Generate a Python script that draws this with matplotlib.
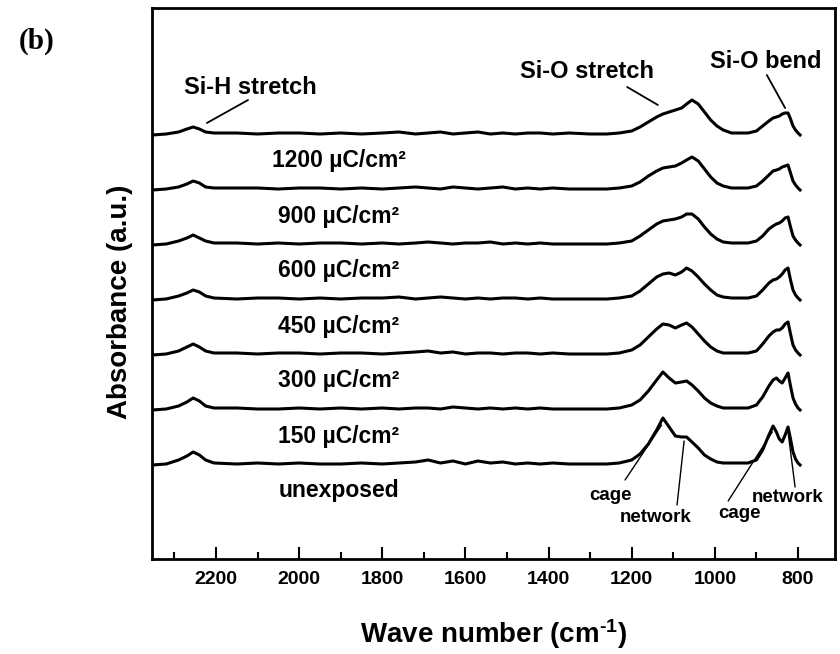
import matplotlib
matplotlib.use("Agg")
import matplotlib.pyplot as plt
from matplotlib.ticker import MultipleLocator

plt.rcParams['font.family'] = ['Liberation Sans', 'DejaVu Sans']
plt.rcParams['font.weight'] = 'bold'
plt.rcParams['mathtext.fontset'] = 'custom'
plt.rcParams['mathtext.rm'] = 'Liberation Sans:bold'
plt.rcParams['mathtext.default'] = 'rm'

# wave numbers (cm^-1) sampled along the spectra
wavenumber = [2354, 2320, 2290, 2270, 2255, 2240, 2225, 2205,
              2150, 2100, 2050, 2000, 1950, 1900, 1850, 1800,
              1760, 1720, 1690, 1660, 1630, 1600, 1570, 1540,
              1510, 1480, 1450, 1420, 1390, 1350, 1300, 1260,
              1230, 1200, 1180, 1160, 1140, 1125, 1110, 1095,
              1080, 1068, 1055, 1040, 1025, 1010, 995, 980,
              960, 940, 920, 900, 885, 870, 860, 852,
              845, 838, 831, 824, 818, 812, 806, 800, 795]

# absorbance (a.u.), top to bottom
abs_1200 = [0, 1, 3, 6, 8, 6, 3, 2, 2, 1, 2, 2, 1, 2, 1, 2,
            3, 1, 2, 3, 1, 2, 3, 1, 2, 1, 2, 2, 1, 2, 1, 1,
            2, 4, 8, 13, 18, 21, 23, 25, 27, 31, 35, 31, 23, 15, 9, 5,
            2, 2, 2, 4, 9, 14, 17, 18, 19, 21, 22, 22, 16, 9, 5, 2, 0]
abs_900 = [0, 1, 3, 6, 9, 7, 3, 2, 2, 2, 1, 2, 2, 1, 2, 1,
           2, 3, 2, 1, 3, 2, 1, 2, 3, 1, 2, 1, 2, 1, 1, 1,
           2, 4, 8, 14, 19, 22, 23, 24, 27, 30, 33, 29, 21, 13, 7, 4,
           2, 2, 2, 4, 9, 15, 19, 20, 21, 23, 24, 25, 17, 9, 5, 2, 0]
abs_600 = [0, 1, 4, 7, 10, 7, 4, 2, 2, 1, 2, 1, 2, 2, 1, 2,
           1, 2, 3, 2, 1, 2, 2, 3, 1, 2, 1, 2, 1, 1, 1, 1,
           2, 4, 9, 15, 21, 24, 25, 26, 28, 31, 31, 26, 18, 11, 6, 3,
           2, 2, 2, 4, 9, 16, 19, 21, 22, 24, 27, 28, 18, 9, 5, 2, 0]
abs_450 = [0, 1, 4, 7, 10, 8, 4, 2, 1, 2, 2, 1, 2, 1, 2, 2,
           3, 1, 2, 3, 2, 1, 2, 1, 2, 2, 1, 2, 1, 1, 1, 1,
           2, 4, 9, 16, 23, 26, 27, 25, 28, 32, 29, 23, 16, 10, 5, 3,
           2, 2, 2, 4, 10, 17, 20, 21, 23, 26, 30, 32, 20, 10, 5, 2, 0]
abs_300 = [0, 1, 4, 8, 11, 8, 4, 2, 2, 1, 2, 2, 1, 2, 2, 1,
           2, 3, 4, 2, 3, 1, 2, 2, 1, 2, 2, 1, 2, 1, 1, 1,
           2, 5, 10, 18, 26, 31, 30, 27, 30, 32, 28, 21, 14, 8, 4, 2,
           2, 2, 2, 4, 11, 19, 23, 25, 25, 27, 31, 33, 21, 10, 5, 2, 0]
abs_150 = [0, 1, 4, 8, 12, 9, 4, 2, 2, 1, 1, 2, 1, 2, 1, 2,
           1, 2, 2, 1, 3, 2, 1, 2, 1, 2, 1, 2, 1, 1, 1, 1,
           2, 5, 10, 19, 30, 38, 32, 27, 28, 29, 25, 19, 12, 7, 4, 2,
           2, 2, 2, 5, 13, 24, 30, 32, 29, 27, 32, 37, 24, 12, 6, 2, 0]
abs_unexposed = [0, 1, 5, 9, 13, 10, 5, 2, 1, 2, 1, 2, 1, 1, 2, 1,
                 2, 3, 5, 2, 4, 1, 4, 2, 3, 1, 2, 1, 2, 1, 1, 1,
                 2, 5, 11, 21, 35, 47, 38, 29, 28, 28, 23, 17, 10, 6, 3, 2,
                 2, 2, 2, 5, 15, 30, 39, 33, 26, 23, 30, 38, 26, 13, 6, 2, 0]

spectra = [abs_1200, abs_900, abs_600, abs_450, abs_300, abs_150, abs_unexposed]
dose_labels = ['1200 µC/cm²', '900 µC/cm²', '600 µC/cm²', '450 µC/cm²',
               '300 µC/cm²', '150 µC/cm²', 'unexposed']
x_ticks = [2200, 2000, 1800, 1600, 1400, 1200, 1000, 800]

step = 55  # vertical offset between stacked traces

fig = plt.figure(figsize=(8.4, 6.54), dpi=100)
ax = fig.add_axes([152 / 840, 95 / 654, 683 / 840, 551 / 654])

n = len(spectra)
for i, (ys, label) in enumerate(zip(spectra, dose_labels)):
  offset = (n - 1 - i) * step
  ax.plot(wavenumber, [offset + y for y in ys], color='black', lw=2.2,
          solid_joinstyle='round')
  ax.text(1905, offset - 26, label, ha='center', va='center', fontsize=16.5)

ax.set_xlim(2354, 711)
ax.set_ylim(-94, 457)
ax.set_xticks(x_ticks)
ax.xaxis.set_minor_locator(MultipleLocator(100))
ax.set_yticks([k * step for k in range(n)])
ax.set_yticklabels([])
ax.tick_params(axis='x', which='major', direction='in', length=9, width=1.5,
               labelsize=14, pad=9)
ax.tick_params(axis='x', which='minor', direction='in', length=5, width=1.5)
ax.tick_params(axis='y', direction='in', length=5, width=1.5)
for s in ax.spines.values():
  s.set_linewidth(2.0)

line = dict(arrowstyle='-', lw=1.3, color='black', shrinkA=0, shrinkB=0)
ax.text(2118, 378, 'Si-H stretch', ha='center', va='center', fontsize=17)
ax.annotate('', xy=(2222, 342), xytext=(2123, 365), arrowprops=line)
ax.text(1308, 393, 'Si-O stretch', ha='center', va='center', fontsize=17)
ax.annotate('', xy=(1137, 360), xytext=(1211, 378), arrowprops=line)
ax.text(877, 403, 'Si-O bend', ha='center', va='center', fontsize=17)
ax.annotate('', xy=(831, 357), xytext=(875, 390), arrowprops=line)

thin = dict(arrowstyle='-', lw=1.0, color='black', shrinkA=0, shrinkB=0)
ax.text(1252, -30, 'cage', ha='center', va='center', fontsize=13.5)
ax.annotate('', xy=(1128, 40), xytext=(1216, -15), arrowprops=thin)
ax.text(1142, -52, 'network', ha='center', va='center', fontsize=13.5)
ax.annotate('', xy=(1074, 24), xytext=(1091, -40), arrowprops=thin)
ax.text(940, -48, 'cage', ha='center', va='center', fontsize=13.5)
ax.annotate('', xy=(862, 33), xytext=(968, -36), arrowprops=thin)
ax.text(824, -32, 'network', ha='center', va='center', fontsize=13.5)
ax.annotate('', xy=(824, 33), xytext=(807, -22), arrowprops=thin)

fig.text(120 / 840, 1 - 302 / 654, 'Absorbance (a.u.)', rotation=90,
         ha='center', va='center', fontsize=20)
fig.text(494 / 840, 1 - 634 / 654, 'Wave number (cm$^{\\text{-1}}$)',
         ha='center', va='center', fontsize=20)
fig.text(37 / 840, 1 - 41 / 654, '(b)', ha='center', va='center',
         fontsize=21, family=['Liberation Serif', 'DejaVu Serif'])

fig.savefig('out.png', dpi=100)
